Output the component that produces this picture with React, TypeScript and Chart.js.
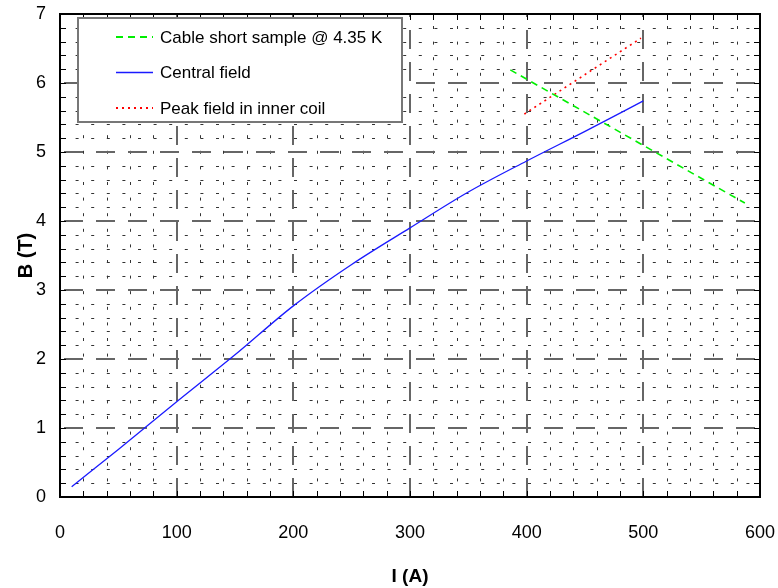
import React, { useEffect, useRef } from 'react';
import { Chart, registerables } from 'chart.js';

Chart.register(...registerables);

// ---- data ----
const centralI = [10, 50, 100, 150, 200, 250, 300, 350, 400, 450, 500];
const centralB = [0.15, 0.69, 1.38, 2.06, 2.77, 3.37, 3.9, 4.42, 4.87, 5.3, 5.74];
const cableI = [386, 587];
const cableB = [6.19, 4.26];
const peakI = [398, 498];
const peakB = [5.55, 6.65];

const xMin = 0, xMax = 600, xMajor = 100, xMinor = 20;
const yMin = 0, yMax = 7, yMajor = 1, yMinor = 0.2;

const labels = ['Cable short sample @ 4.35 K', 'Central field', 'Peak field in inner coil'];
const colors = ['#00ee00', '#1a1aff', '#ff0000'];
const dashes = [[7, 5], [], [2, 4]];
const widths = [1.6, 1.3, 1.6];

const FONT = '"Liberation Sans", Arial, sans-serif';

const toPts = (xs: number[], ys: number[]) => xs.map((v, i) => ({ x: v, y: ys[i] }));

const gridPlugin = {
  id: 'customGrid',
  beforeDatasetsDraw(chart: any) {
    const { ctx, chartArea: a, scales } = chart;
    const x = scales.x, y = scales.y;
    ctx.save();
    ctx.beginPath();
    ctx.rect(a.left, a.top, a.right - a.left, a.bottom - a.top);
    ctx.clip();
    const nx = Math.round((xMax - xMin) / xMinor);
    const ny = Math.round((yMax - yMin) / yMinor);
    const perX = Math.round(xMajor / xMinor);
    const perY = Math.round(yMajor / yMinor);
    // minor
    ctx.strokeStyle = '#333';
    ctx.lineWidth = 1;
    ctx.setLineDash([3, 12.6]);
    for (let i = 1; i < nx; i++) {
      if (i % perX === 0) continue;
      const px = Math.round(x.getPixelForValue(xMin + i * xMinor)) + 0.5;
      ctx.beginPath(); ctx.moveTo(px, a.bottom); ctx.lineTo(px, a.top); ctx.stroke();
    }
    for (let i = 1; i < ny; i++) {
      if (i % perY === 0) continue;
      const py = Math.round(y.getPixelForValue(yMin + i * yMinor)) + 0.5;
      ctx.beginPath(); ctx.moveTo(a.left, py); ctx.lineTo(a.right, py); ctx.stroke();
    }
    // major
    ctx.strokeStyle = '#666';
    ctx.lineWidth = 2;
    ctx.setLineDash([19, 13]);
    for (let i = perX; i < nx; i += perX) {
      const px = Math.round(x.getPixelForValue(xMin + i * xMinor));
      ctx.beginPath(); ctx.moveTo(px, a.bottom); ctx.lineTo(px, a.top); ctx.stroke();
    }
    for (let i = perY; i < ny; i += perY) {
      const py = Math.round(y.getPixelForValue(yMin + i * yMinor));
      ctx.beginPath(); ctx.moveTo(a.left + 4, py); ctx.lineTo(a.right, py); ctx.stroke();
    }
    ctx.restore();
  },
  afterDatasetsDraw(chart: any) {
    const { ctx, chartArea: a, scales } = chart;
    const x = scales.x, y = scales.y;
    ctx.save();
    ctx.setLineDash([]);
    // ticks inward
    ctx.strokeStyle = '#000';
    ctx.lineWidth = 1;
    const nx = Math.round((xMax - xMin) / xMinor);
    const ny = Math.round((yMax - yMin) / yMinor);
    const tl = 6;
    for (let i = 1; i < nx; i++) {
      const px = Math.round(x.getPixelForValue(xMin + i * xMinor)) + 0.5;
      ctx.beginPath();
      ctx.moveTo(px, a.bottom); ctx.lineTo(px, a.bottom - tl);
      ctx.moveTo(px, a.top); ctx.lineTo(px, a.top + tl);
      ctx.stroke();
    }
    for (let i = 1; i < ny; i++) {
      const py = Math.round(y.getPixelForValue(yMin + i * yMinor)) + 0.5;
      ctx.beginPath();
      ctx.moveTo(a.left, py); ctx.lineTo(a.left + tl, py);
      ctx.moveTo(a.right, py); ctx.lineTo(a.right - tl, py);
      ctx.stroke();
    }
    // frame
    ctx.lineWidth = 2;
    ctx.strokeRect(a.left, a.top, a.right - a.left, a.bottom - a.top);

    // legend box
    const bx = a.left + 18, by = a.top + 4, bw = 324, bh = 104;
    ctx.fillStyle = '#fff';
    ctx.fillRect(bx, by, bw, bh);
    ctx.strokeStyle = '#777';
    ctx.lineWidth = 2;
    ctx.strokeRect(bx, by, bw, bh);
    ctx.font = `17px ${FONT}`;
    ctx.textBaseline = 'middle';
    ctx.textAlign = 'left';
    labels.forEach((lab, i) => {
      const ly = by + 19 + i * 35.5;
      ctx.strokeStyle = colors[i];
      ctx.lineWidth = i === 1 ? 1.6 : 1.8;
      ctx.setLineDash(dashes[i]);
      ctx.beginPath();
      ctx.moveTo(bx + 38, ly); ctx.lineTo(bx + 75, ly);
      ctx.stroke();
      ctx.setLineDash([]);
      ctx.fillStyle = '#000';
      ctx.fillText(lab, bx + 82, ly + 1);
    });
    ctx.restore();
  },
};

export default function App() {
  const ref = useRef<HTMLCanvasElement | null>(null);
  useEffect(() => {
    if (!ref.current) return;
    const chart = new Chart(ref.current, {
      type: 'scatter',
      data: {
        datasets: [
          {
            label: labels[0], data: toPts(cableI, cableB), showLine: true,
            borderColor: colors[0], borderWidth: widths[0], borderDash: dashes[0], pointRadius: 0,
          },
          {
            label: labels[1], data: toPts(centralI, centralB), showLine: true,
            borderColor: colors[1], borderWidth: widths[1], borderDash: dashes[1], pointRadius: 0,
            cubicInterpolationMode: 'monotone',
          },
          {
            label: labels[2], data: toPts(peakI, peakB), showLine: true,
            borderColor: colors[2], borderWidth: widths[2], borderDash: dashes[2], pointRadius: 0,
          },
        ] as any,
      },
      options: {
        animation: false,
        responsive: false,
        devicePixelRatio: 1,
        layout: { padding: 0 },
        plugins: { legend: { display: false }, tooltip: { enabled: false } },
        scales: {
          x: {
            type: 'linear', min: xMin, max: xMax,
            grid: { display: false, drawTicks: false },
            border: { display: false },
            ticks: { stepSize: xMajor, padding: 25, color: '#000', font: { family: FONT, size: 18 } },
            title: { display: true, text: 'I (A)', color: '#000', padding: { top: 0, bottom: 0 }, font: { family: FONT, size: 19, weight: 'bold' } },
            afterFit: (s: any) => { s.height = 91; s.paddingLeft = 0; s.paddingRight = 18; },
          },
          y: {
            type: 'linear', min: yMin, max: yMax,
            grid: { display: false, drawTicks: false },
            border: { display: false },
            ticks: { stepSize: yMajor, padding: 14, color: '#000', font: { family: FONT, size: 18 } },
            title: { display: true, text: 'B (T)', color: '#000', padding: { top: 14, bottom: 0 }, font: { family: FONT, size: 20, weight: 'bold' } },
            afterFit: (s: any) => { s.width = 60; s.paddingTop = 14; s.paddingBottom = 0; },
          },
        },
      } as any,
      plugins: [gridPlugin],
    });
    return () => chart.destroy();
  }, []);
  return (
    <div style={{ position: 'fixed', left: 0, top: 0, width: 778, height: 588, background: '#fff' }}>
      <canvas ref={ref} width={778} height={588} style={{ display: 'block' }} />
    </div>
  );
}
